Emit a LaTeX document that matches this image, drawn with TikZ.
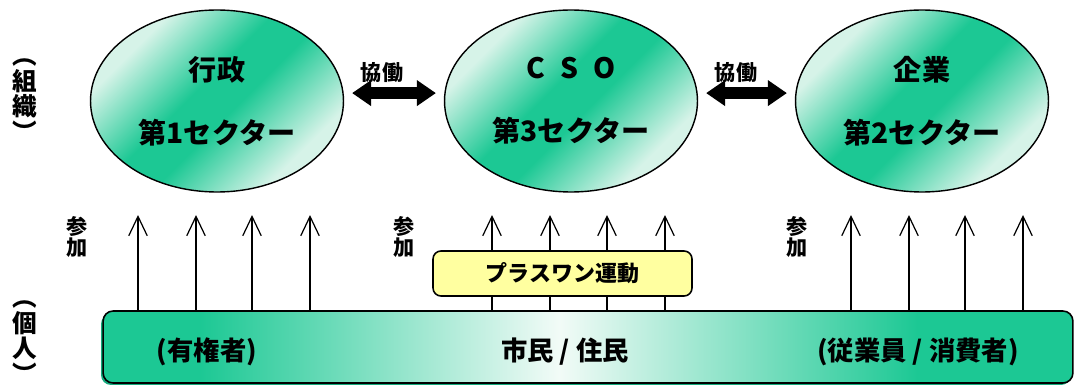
\documentclass[tikz,border=0pt]{standalone}
\usepackage{fontspec}
\setmainfont{Noto Sans CJK JP}
\usetikzlibrary{shapes.geometric, arrows.meta}
\definecolor{sectgreen}{RGB}{28,200,148}
\definecolor{sectlight}{RGB}{214,243,232}
\definecolor{barwhite}{RGB}{242,251,247}
\definecolor{bardark}{RGB}{20,170,125}
\definecolor{plusyellow}{RGB}{255,255,160}
\pgfdeclarehorizontalshading{sectorband}{100bp}{color(0bp)=(sectlight); color(28bp)=(sectlight); color(45bp)=(sectgreen); color(54bp)=(sectgreen); color(72bp)=(sectlight); color(100bp)=(sectlight)}
\pgfdeclarehorizontalshading{barshade}{100bp}{color(0bp)=(sectgreen); color(30bp)=(sectgreen); color(48.5bp)=(barwhite); color(67bp)=(sectgreen); color(100bp)=(sectgreen)}

\begin{document}
\begin{tikzpicture}[x=0.02cm, y=-0.02cm,
	sector/.style={shape=ellipse, draw, line width=0.8pt, shading=sectorband, shading angle=-45, minimum width=5.06cm, minimum height=3.64cm, align=center, inner sep=0pt, font=\bfseries\fontsize{16}{36}\selectfont},
	kyodo/.style={line width=6.8pt, {Triangle[length=10.8pt,width=14pt]}-{Triangle[length=10.8pt,width=14pt]}, shorten <=4.5pt, shorten >=4.5pt},
	upar/.style={line width=0.7pt, -{Straight Barb[length=11pt,width=10.5pt]}},
	tate/.style={align=center, inner sep=0pt, font=\bfseries\fontsize{14}{14.5}\selectfont},
	sanka/.style={align=center, inner sep=0pt, font=\bfseries\fontsize{12}{12.5}\selectfont},
	bartext/.style={inner sep=0pt, font=\bfseries\fontsize{15}{15}\selectfont}]
	\useasboundingbox (0,0) rectangle (1075,385);
	% Sectors:
	\node[sector] (gyosei) at (217,101) {行政\\第1セクター};
	\node[sector] (cso) at (571,101) {C\hspace{0.55em}S\hspace{0.55em}O\\第3セクター};
	\node[sector] (kigyo) at (922,101) {企業\\第2セクター};
	\draw[kyodo] ([yshift=4.5pt]gyosei.east) -- ([yshift=4.5pt]cso.west);
	\draw[kyodo] ([yshift=4.5pt]cso.east) -- ([yshift=4.5pt]kigyo.west);
	\node[sanka] (kyodo1) at (382,73) {協働};
	\node[sanka] (kyodo2) at (736,73) {協働};
	% Side labels:
	\node[tate] (soshiki) at (25,100) {︵\\組\\織\\︶};
	\node[tate] (kojin) at (25,342) {︵\\個\\人\\︶};
	\node[sanka] (sanka1) at (77,237) {参\\加};
	\node[sanka] (sanka2) at (404,237) {参\\加};
	\node[sanka] (sanka3) at (797,237) {参\\加};
	% Citizens bar and participation arrows:
	\fill[bardark, rounded corners=5.7pt] (101,314) rectangle (1071,385);
	\node[draw, line width=0.9pt, rounded corners=5.7pt, shading=barshade, minimum width=19.4cm, minimum height=1.44cm] (shimin) at (588,347) {};
	\node[bartext] (yukensha) at (207,352) {(有権者)};
	\node[bartext] (jumin) at (565,352) {市民 / 住民};
	\node[bartext] (jugyoin) at (918,352) {(従業員 / 消費者)};
	\foreach \x in {138,196,252,310,492,550,607,665,851,909,965,1023} {
		\coordinate (t\x) at (\x,215);
		\draw[upar] (t\x |- shimin.north) -- (t\x);
	}
	\node[draw, line width=0.9pt, rounded corners=4.5pt, fill=plusyellow, minimum width=5.18cm, minimum height=0.9cm, font=\bfseries\fontsize{12.5}{12.5}\selectfont] (plusone) at (562.5,273.5) {プラスワン運動};
\end{tikzpicture}
\end{document}
